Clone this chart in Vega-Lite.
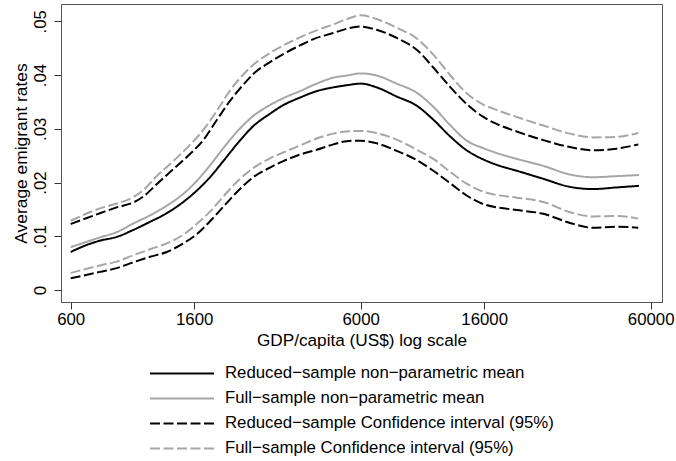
{
  "$schema": "https://vega.github.io/schema/vega-lite/v6.json",
  "width": 601,
  "height": 298,
  "autosize": "none",
  "padding": {"left": 61, "top": 4, "right": 14, "bottom": 159},
  "background": "white",
  "config": {"font": "Liberation Sans", "view": {"stroke": "#555555", "strokeWidth": 1}},
  "datasets": {
    "curves": [
      {"gdp": 600, "rate": 0.0071, "series": "Reduced−sample non−parametric mean"},
      {"gdp": 681, "rate": 0.0084, "series": "Reduced−sample non−parametric mean"},
      {"gdp": 757, "rate": 0.0092, "series": "Reduced−sample non−parametric mean"},
      {"gdp": 865, "rate": 0.0099, "series": "Reduced−sample non−parametric mean"},
      {"gdp": 987, "rate": 0.0112, "series": "Reduced−sample non−parametric mean"},
      {"gdp": 1126, "rate": 0.0127, "series": "Reduced−sample non−parametric mean"},
      {"gdp": 1286, "rate": 0.0143, "series": "Reduced−sample non−parametric mean"},
      {"gdp": 1467, "rate": 0.0164, "series": "Reduced−sample non−parametric mean"},
      {"gdp": 1632, "rate": 0.0185, "series": "Reduced−sample non−parametric mean"},
      {"gdp": 1814, "rate": 0.021, "series": "Reduced−sample non−parametric mean"},
      {"gdp": 2016, "rate": 0.024, "series": "Reduced−sample non−parametric mean"},
      {"gdp": 2242, "rate": 0.0271, "series": "Reduced−sample non−parametric mean"},
      {"gdp": 2558, "rate": 0.0305, "series": "Reduced−sample non−parametric mean"},
      {"gdp": 2920, "rate": 0.0328, "series": "Reduced−sample non−parametric mean"},
      {"gdp": 3246, "rate": 0.0344, "series": "Reduced−sample non−parametric mean"},
      {"gdp": 3706, "rate": 0.0358, "series": "Reduced−sample non−parametric mean"},
      {"gdp": 4231, "rate": 0.037, "series": "Reduced−sample non−parametric mean"},
      {"gdp": 4828, "rate": 0.0377, "series": "Reduced−sample non−parametric mean"},
      {"gdp": 5370, "rate": 0.0381, "series": "Reduced−sample non−parametric mean"},
      {"gdp": 6000, "rate": 0.0384, "series": "Reduced−sample non−parametric mean"},
      {"gdp": 6813, "rate": 0.0377, "series": "Reduced−sample non−parametric mean"},
      {"gdp": 7985, "rate": 0.036, "series": "Reduced−sample non−parametric mean"},
      {"gdp": 9360, "rate": 0.0343, "series": "Reduced−sample non−parametric mean"},
      {"gdp": 10680, "rate": 0.0317, "series": "Reduced−sample non−parametric mean"},
      {"gdp": 12200, "rate": 0.0286, "series": "Reduced−sample non−parametric mean"},
      {"gdp": 13920, "rate": 0.026, "series": "Reduced−sample non−parametric mean"},
      {"gdp": 15890, "rate": 0.0243, "series": "Reduced−sample non−parametric mean"},
      {"gdp": 17670, "rate": 0.0233, "series": "Reduced−sample non−parametric mean"},
      {"gdp": 20710, "rate": 0.0222, "series": "Reduced−sample non−parametric mean"},
      {"gdp": 25580, "rate": 0.0207, "series": "Reduced−sample non−parametric mean"},
      {"gdp": 31620, "rate": 0.0192, "series": "Reduced−sample non−parametric mean"},
      {"gdp": 38050, "rate": 0.0188, "series": "Reduced−sample non−parametric mean"},
      {"gdp": 45810, "rate": 0.0191, "series": "Reduced−sample non−parametric mean"},
      {"gdp": 54700, "rate": 0.0194, "series": "Reduced−sample non−parametric mean"},

      {"gdp": 600, "rate": 0.008, "series": "Full−sample non−parametric mean"},
      {"gdp": 757, "rate": 0.0098, "series": "Full−sample non−parametric mean"},
      {"gdp": 865, "rate": 0.0108, "series": "Full−sample non−parametric mean"},
      {"gdp": 987, "rate": 0.0124, "series": "Full−sample non−parametric mean"},
      {"gdp": 1126, "rate": 0.0139, "series": "Full−sample non−parametric mean"},
      {"gdp": 1286, "rate": 0.0157, "series": "Full−sample non−parametric mean"},
      {"gdp": 1467, "rate": 0.0179, "series": "Full−sample non−parametric mean"},
      {"gdp": 1632, "rate": 0.0203, "series": "Full−sample non−parametric mean"},
      {"gdp": 1814, "rate": 0.0232, "series": "Full−sample non−parametric mean"},
      {"gdp": 2016, "rate": 0.0264, "series": "Full−sample non−parametric mean"},
      {"gdp": 2242, "rate": 0.0294, "series": "Full−sample non−parametric mean"},
      {"gdp": 2558, "rate": 0.0324, "series": "Full−sample non−parametric mean"},
      {"gdp": 2920, "rate": 0.0344, "series": "Full−sample non−parametric mean"},
      {"gdp": 3246, "rate": 0.0357, "series": "Full−sample non−parametric mean"},
      {"gdp": 3706, "rate": 0.037, "series": "Full−sample non−parametric mean"},
      {"gdp": 4231, "rate": 0.0384, "series": "Full−sample non−parametric mean"},
      {"gdp": 4828, "rate": 0.0395, "series": "Full−sample non−parametric mean"},
      {"gdp": 5370, "rate": 0.0399, "series": "Full−sample non−parametric mean"},
      {"gdp": 6000, "rate": 0.0403, "series": "Full−sample non−parametric mean"},
      {"gdp": 6813, "rate": 0.0399, "series": "Full−sample non−parametric mean"},
      {"gdp": 7985, "rate": 0.0384, "series": "Full−sample non−parametric mean"},
      {"gdp": 9360, "rate": 0.0367, "series": "Full−sample non−parametric mean"},
      {"gdp": 10680, "rate": 0.0341, "series": "Full−sample non−parametric mean"},
      {"gdp": 12200, "rate": 0.0307, "series": "Full−sample non−parametric mean"},
      {"gdp": 13920, "rate": 0.0278, "series": "Full−sample non−parametric mean"},
      {"gdp": 15890, "rate": 0.0264, "series": "Full−sample non−parametric mean"},
      {"gdp": 17670, "rate": 0.0255, "series": "Full−sample non−parametric mean"},
      {"gdp": 20710, "rate": 0.0244, "series": "Full−sample non−parametric mean"},
      {"gdp": 25580, "rate": 0.0231, "series": "Full−sample non−parametric mean"},
      {"gdp": 31620, "rate": 0.0215, "series": "Full−sample non−parametric mean"},
      {"gdp": 38050, "rate": 0.021, "series": "Full−sample non−parametric mean"},
      {"gdp": 45810, "rate": 0.0212, "series": "Full−sample non−parametric mean"},
      {"gdp": 54700, "rate": 0.0214, "series": "Full−sample non−parametric mean"},

      {"gdp": 600, "rate": 0.0123, "series": "Reduced−sample Confidence interval (95%)", "band": "upper"},
      {"gdp": 757, "rate": 0.0143, "series": "Reduced−sample Confidence interval (95%)", "band": "upper"},
      {"gdp": 865, "rate": 0.0154, "series": "Reduced−sample Confidence interval (95%)", "band": "upper"},
      {"gdp": 987, "rate": 0.0163, "series": "Reduced−sample Confidence interval (95%)", "band": "upper"},
      {"gdp": 1068, "rate": 0.0174, "series": "Reduced−sample Confidence interval (95%)", "band": "upper"},
      {"gdp": 1188, "rate": 0.0197, "series": "Reduced−sample Confidence interval (95%)", "band": "upper"},
      {"gdp": 1355, "rate": 0.0225, "series": "Reduced−sample Confidence interval (95%)", "band": "upper"},
      {"gdp": 1547, "rate": 0.0253, "series": "Reduced−sample Confidence interval (95%)", "band": "upper"},
      {"gdp": 1720, "rate": 0.0279, "series": "Reduced−sample Confidence interval (95%)", "band": "upper"},
      {"gdp": 1912, "rate": 0.0316, "series": "Reduced−sample Confidence interval (95%)", "band": "upper"},
      {"gdp": 2126, "rate": 0.0352, "series": "Reduced−sample Confidence interval (95%)", "band": "upper"},
      {"gdp": 2363, "rate": 0.0382, "series": "Reduced−sample Confidence interval (95%)", "band": "upper"},
      {"gdp": 2558, "rate": 0.0402, "series": "Reduced−sample Confidence interval (95%)", "band": "upper"},
      {"gdp": 2920, "rate": 0.0424, "series": "Reduced−sample Confidence interval (95%)", "band": "upper"},
      {"gdp": 3246, "rate": 0.0439, "series": "Reduced−sample Confidence interval (95%)", "band": "upper"},
      {"gdp": 3706, "rate": 0.0455, "series": "Reduced−sample Confidence interval (95%)", "band": "upper"},
      {"gdp": 4231, "rate": 0.0469, "series": "Reduced−sample Confidence interval (95%)", "band": "upper"},
      {"gdp": 4828, "rate": 0.0478, "series": "Reduced−sample Confidence interval (95%)", "band": "upper"},
      {"gdp": 5370, "rate": 0.0486, "series": "Reduced−sample Confidence interval (95%)", "band": "upper"},
      {"gdp": 6000, "rate": 0.049, "series": "Reduced−sample Confidence interval (95%)", "band": "upper"},
      {"gdp": 6813, "rate": 0.0484, "series": "Reduced−sample Confidence interval (95%)", "band": "upper"},
      {"gdp": 7985, "rate": 0.0469, "series": "Reduced−sample Confidence interval (95%)", "band": "upper"},
      {"gdp": 9360, "rate": 0.0447, "series": "Reduced−sample Confidence interval (95%)", "band": "upper"},
      {"gdp": 10680, "rate": 0.0414, "series": "Reduced−sample Confidence interval (95%)", "band": "upper"},
      {"gdp": 12200, "rate": 0.0378, "series": "Reduced−sample Confidence interval (95%)", "band": "upper"},
      {"gdp": 13920, "rate": 0.0346, "series": "Reduced−sample Confidence interval (95%)", "band": "upper"},
      {"gdp": 15890, "rate": 0.0322, "series": "Reduced−sample Confidence interval (95%)", "band": "upper"},
      {"gdp": 17670, "rate": 0.0309, "series": "Reduced−sample Confidence interval (95%)", "band": "upper"},
      {"gdp": 20710, "rate": 0.0295, "series": "Reduced−sample Confidence interval (95%)", "band": "upper"},
      {"gdp": 25580, "rate": 0.0279, "series": "Reduced−sample Confidence interval (95%)", "band": "upper"},
      {"gdp": 31620, "rate": 0.0266, "series": "Reduced−sample Confidence interval (95%)", "band": "upper"},
      {"gdp": 38050, "rate": 0.026, "series": "Reduced−sample Confidence interval (95%)", "band": "upper"},
      {"gdp": 45810, "rate": 0.0263, "series": "Reduced−sample Confidence interval (95%)", "band": "upper"},
      {"gdp": 54370, "rate": 0.0271, "series": "Reduced−sample Confidence interval (95%)", "band": "upper"},

      {"gdp": 600, "rate": 0.0022, "series": "Reduced−sample Confidence interval (95%)", "band": "lower"},
      {"gdp": 757, "rate": 0.0034, "series": "Reduced−sample Confidence interval (95%)", "band": "lower"},
      {"gdp": 865, "rate": 0.0041, "series": "Reduced−sample Confidence interval (95%)", "band": "lower"},
      {"gdp": 987, "rate": 0.0052, "series": "Reduced−sample Confidence interval (95%)", "band": "lower"},
      {"gdp": 1126, "rate": 0.0062, "series": "Reduced−sample Confidence interval (95%)", "band": "lower"},
      {"gdp": 1286, "rate": 0.0071, "series": "Reduced−sample Confidence interval (95%)", "band": "lower"},
      {"gdp": 1467, "rate": 0.0087, "series": "Reduced−sample Confidence interval (95%)", "band": "lower"},
      {"gdp": 1632, "rate": 0.0104, "series": "Reduced−sample Confidence interval (95%)", "band": "lower"},
      {"gdp": 1814, "rate": 0.0128, "series": "Reduced−sample Confidence interval (95%)", "band": "lower"},
      {"gdp": 2016, "rate": 0.0155, "series": "Reduced−sample Confidence interval (95%)", "band": "lower"},
      {"gdp": 2242, "rate": 0.0182, "series": "Reduced−sample Confidence interval (95%)", "band": "lower"},
      {"gdp": 2558, "rate": 0.021, "series": "Reduced−sample Confidence interval (95%)", "band": "lower"},
      {"gdp": 2920, "rate": 0.0228, "series": "Reduced−sample Confidence interval (95%)", "band": "lower"},
      {"gdp": 3246, "rate": 0.024, "series": "Reduced−sample Confidence interval (95%)", "band": "lower"},
      {"gdp": 3706, "rate": 0.0252, "series": "Reduced−sample Confidence interval (95%)", "band": "lower"},
      {"gdp": 4231, "rate": 0.0261, "series": "Reduced−sample Confidence interval (95%)", "band": "lower"},
      {"gdp": 4828, "rate": 0.0271, "series": "Reduced−sample Confidence interval (95%)", "band": "lower"},
      {"gdp": 5370, "rate": 0.0277, "series": "Reduced−sample Confidence interval (95%)", "band": "lower"},
      {"gdp": 6000, "rate": 0.0278, "series": "Reduced−sample Confidence interval (95%)", "band": "lower"},
      {"gdp": 6813, "rate": 0.0273, "series": "Reduced−sample Confidence interval (95%)", "band": "lower"},
      {"gdp": 7985, "rate": 0.0259, "series": "Reduced−sample Confidence interval (95%)", "band": "lower"},
      {"gdp": 9360, "rate": 0.0242, "series": "Reduced−sample Confidence interval (95%)", "band": "lower"},
      {"gdp": 10680, "rate": 0.0222, "series": "Reduced−sample Confidence interval (95%)", "band": "lower"},
      {"gdp": 12200, "rate": 0.0199, "series": "Reduced−sample Confidence interval (95%)", "band": "lower"},
      {"gdp": 13920, "rate": 0.0176, "series": "Reduced−sample Confidence interval (95%)", "band": "lower"},
      {"gdp": 15890, "rate": 0.016, "series": "Reduced−sample Confidence interval (95%)", "band": "lower"},
      {"gdp": 17670, "rate": 0.0154, "series": "Reduced−sample Confidence interval (95%)", "band": "lower"},
      {"gdp": 20710, "rate": 0.0149, "series": "Reduced−sample Confidence interval (95%)", "band": "lower"},
      {"gdp": 25580, "rate": 0.0142, "series": "Reduced−sample Confidence interval (95%)", "band": "lower"},
      {"gdp": 31620, "rate": 0.0125, "series": "Reduced−sample Confidence interval (95%)", "band": "lower"},
      {"gdp": 38050, "rate": 0.0116, "series": "Reduced−sample Confidence interval (95%)", "band": "lower"},
      {"gdp": 45810, "rate": 0.0118, "series": "Reduced−sample Confidence interval (95%)", "band": "lower"},
      {"gdp": 54370, "rate": 0.0116, "series": "Reduced−sample Confidence interval (95%)", "band": "lower"},

      {"gdp": 600, "rate": 0.0129, "series": "Full−sample Confidence interval (95%)", "band": "upper"},
      {"gdp": 757, "rate": 0.0152, "series": "Full−sample Confidence interval (95%)", "band": "upper"},
      {"gdp": 865, "rate": 0.0161, "series": "Full−sample Confidence interval (95%)", "band": "upper"},
      {"gdp": 987, "rate": 0.0173, "series": "Full−sample Confidence interval (95%)", "band": "upper"},
      {"gdp": 1068, "rate": 0.0186, "series": "Full−sample Confidence interval (95%)", "band": "upper"},
      {"gdp": 1188, "rate": 0.0212, "series": "Full−sample Confidence interval (95%)", "band": "upper"},
      {"gdp": 1355, "rate": 0.024, "series": "Full−sample Confidence interval (95%)", "band": "upper"},
      {"gdp": 1547, "rate": 0.027, "series": "Full−sample Confidence interval (95%)", "band": "upper"},
      {"gdp": 1720, "rate": 0.0298, "series": "Full−sample Confidence interval (95%)", "band": "upper"},
      {"gdp": 1912, "rate": 0.0333, "series": "Full−sample Confidence interval (95%)", "band": "upper"},
      {"gdp": 2126, "rate": 0.0371, "series": "Full−sample Confidence interval (95%)", "band": "upper"},
      {"gdp": 2363, "rate": 0.0401, "series": "Full−sample Confidence interval (95%)", "band": "upper"},
      {"gdp": 2558, "rate": 0.0419, "series": "Full−sample Confidence interval (95%)", "band": "upper"},
      {"gdp": 2920, "rate": 0.0441, "series": "Full−sample Confidence interval (95%)", "band": "upper"},
      {"gdp": 3246, "rate": 0.0455, "series": "Full−sample Confidence interval (95%)", "band": "upper"},
      {"gdp": 3706, "rate": 0.047, "series": "Full−sample Confidence interval (95%)", "band": "upper"},
      {"gdp": 4231, "rate": 0.0483, "series": "Full−sample Confidence interval (95%)", "band": "upper"},
      {"gdp": 4828, "rate": 0.0494, "series": "Full−sample Confidence interval (95%)", "band": "upper"},
      {"gdp": 5370, "rate": 0.0504, "series": "Full−sample Confidence interval (95%)", "band": "upper"},
      {"gdp": 6000, "rate": 0.0511, "series": "Full−sample Confidence interval (95%)", "band": "upper"},
      {"gdp": 6813, "rate": 0.0504, "series": "Full−sample Confidence interval (95%)", "band": "upper"},
      {"gdp": 7985, "rate": 0.0488, "series": "Full−sample Confidence interval (95%)", "band": "upper"},
      {"gdp": 9360, "rate": 0.0468, "series": "Full−sample Confidence interval (95%)", "band": "upper"},
      {"gdp": 10680, "rate": 0.0438, "series": "Full−sample Confidence interval (95%)", "band": "upper"},
      {"gdp": 12200, "rate": 0.04, "series": "Full−sample Confidence interval (95%)", "band": "upper"},
      {"gdp": 13920, "rate": 0.0366, "series": "Full−sample Confidence interval (95%)", "band": "upper"},
      {"gdp": 15890, "rate": 0.0345, "series": "Full−sample Confidence interval (95%)", "band": "upper"},
      {"gdp": 17670, "rate": 0.0335, "series": "Full−sample Confidence interval (95%)", "band": "upper"},
      {"gdp": 20710, "rate": 0.0322, "series": "Full−sample Confidence interval (95%)", "band": "upper"},
      {"gdp": 25580, "rate": 0.0306, "series": "Full−sample Confidence interval (95%)", "band": "upper"},
      {"gdp": 31620, "rate": 0.0291, "series": "Full−sample Confidence interval (95%)", "band": "upper"},
      {"gdp": 38050, "rate": 0.0284, "series": "Full−sample Confidence interval (95%)", "band": "upper"},
      {"gdp": 45810, "rate": 0.0285, "series": "Full−sample Confidence interval (95%)", "band": "upper"},
      {"gdp": 54370, "rate": 0.0292, "series": "Full−sample Confidence interval (95%)", "band": "upper"},

      {"gdp": 600, "rate": 0.0032, "series": "Full−sample Confidence interval (95%)", "band": "lower"},
      {"gdp": 757, "rate": 0.0046, "series": "Full−sample Confidence interval (95%)", "band": "lower"},
      {"gdp": 865, "rate": 0.0053, "series": "Full−sample Confidence interval (95%)", "band": "lower"},
      {"gdp": 987, "rate": 0.0065, "series": "Full−sample Confidence interval (95%)", "band": "lower"},
      {"gdp": 1126, "rate": 0.0076, "series": "Full−sample Confidence interval (95%)", "band": "lower"},
      {"gdp": 1286, "rate": 0.0087, "series": "Full−sample Confidence interval (95%)", "band": "lower"},
      {"gdp": 1467, "rate": 0.0103, "series": "Full−sample Confidence interval (95%)", "band": "lower"},
      {"gdp": 1632, "rate": 0.0123, "series": "Full−sample Confidence interval (95%)", "band": "lower"},
      {"gdp": 1814, "rate": 0.0146, "series": "Full−sample Confidence interval (95%)", "band": "lower"},
      {"gdp": 2016, "rate": 0.0174, "series": "Full−sample Confidence interval (95%)", "band": "lower"},
      {"gdp": 2242, "rate": 0.0201, "series": "Full−sample Confidence interval (95%)", "band": "lower"},
      {"gdp": 2558, "rate": 0.0227, "series": "Full−sample Confidence interval (95%)", "band": "lower"},
      {"gdp": 2920, "rate": 0.0245, "series": "Full−sample Confidence interval (95%)", "band": "lower"},
      {"gdp": 3246, "rate": 0.0256, "series": "Full−sample Confidence interval (95%)", "band": "lower"},
      {"gdp": 3706, "rate": 0.0269, "series": "Full−sample Confidence interval (95%)", "band": "lower"},
      {"gdp": 4231, "rate": 0.0282, "series": "Full−sample Confidence interval (95%)", "band": "lower"},
      {"gdp": 4828, "rate": 0.0291, "series": "Full−sample Confidence interval (95%)", "band": "lower"},
      {"gdp": 5370, "rate": 0.0295, "series": "Full−sample Confidence interval (95%)", "band": "lower"},
      {"gdp": 6000, "rate": 0.0296, "series": "Full−sample Confidence interval (95%)", "band": "lower"},
      {"gdp": 6813, "rate": 0.0292, "series": "Full−sample Confidence interval (95%)", "band": "lower"},
      {"gdp": 7985, "rate": 0.028, "series": "Full−sample Confidence interval (95%)", "band": "lower"},
      {"gdp": 9360, "rate": 0.0261, "series": "Full−sample Confidence interval (95%)", "band": "lower"},
      {"gdp": 10680, "rate": 0.0244, "series": "Full−sample Confidence interval (95%)", "band": "lower"},
      {"gdp": 12200, "rate": 0.022, "series": "Full−sample Confidence interval (95%)", "band": "lower"},
      {"gdp": 13920, "rate": 0.0198, "series": "Full−sample Confidence interval (95%)", "band": "lower"},
      {"gdp": 15890, "rate": 0.0183, "series": "Full−sample Confidence interval (95%)", "band": "lower"},
      {"gdp": 17670, "rate": 0.0177, "series": "Full−sample Confidence interval (95%)", "band": "lower"},
      {"gdp": 20710, "rate": 0.0172, "series": "Full−sample Confidence interval (95%)", "band": "lower"},
      {"gdp": 25580, "rate": 0.0164, "series": "Full−sample Confidence interval (95%)", "band": "lower"},
      {"gdp": 31620, "rate": 0.0145, "series": "Full−sample Confidence interval (95%)", "band": "lower"},
      {"gdp": 38050, "rate": 0.0137, "series": "Full−sample Confidence interval (95%)", "band": "lower"},
      {"gdp": 45810, "rate": 0.0138, "series": "Full−sample Confidence interval (95%)", "band": "lower"},
      {"gdp": 54370, "rate": 0.0133, "series": "Full−sample Confidence interval (95%)", "band": "lower"}
    ]
  },
  "data": {"name": "curves"},
  "mark": {"type": "line", "strokeWidth": 2, "interpolate": "monotone"},
  "encoding": {
    "x": {
      "field": "gdp",
      "type": "quantitative",
      "scale": {"type": "log", "domain": [555.6, 65650], "nice": false},
      "axis": {
        "values": [600, 1600, 6000, 16000, 60000],
        "format": "d",
        "title": "GDP/capita (US$) log scale",
        "grid": false,
        "tickSize": 7,
        "tickColor": "#333333",
        "domainColor": "#555555",
        "labelFontSize": 16.8,
        "labelColor": "black",
        "labelBaseline": "alphabetic",
        "labelPadding": 15.5,
        "labelFlush": false,
        "labelOverlap": false,
        "titleFontSize": 17.2,
        "titleFontWeight": "normal",
        "titleColor": "black",
        "titleBaseline": "alphabetic",
        "titleY": 43
      }
    },
    "y": {
      "field": "rate",
      "type": "quantitative",
      "scale": {"domain": [-0.0022, 0.0532], "nice": false, "zero": false},
      "axis": {
        "values": [0, 0.01, 0.02, 0.03, 0.04, 0.05],
        "labelExpr": "datum.value == 0 ? '0' : replace(format(datum.value, '.2f'), '0.', '.')",
        "title": "Average emigrant rates",
        "grid": false,
        "tickSize": 7,
        "tickColor": "#333333",
        "domainColor": "#555555",
        "labelAngle": -90,
        "labelAlign": "center",
        "labelBaseline": "alphabetic",
        "labelPadding": 9,
        "labelFontSize": 16.8,
        "labelColor": "black",
        "labelOverlap": false,
        "titleFontSize": 17.4,
        "titleFontWeight": "normal",
        "titleColor": "black",
        "titleAngle": -90,
        "titleAlign": "center",
        "titleBaseline": "alphabetic",
        "titleX": -35,
        "titleY": 149
      }
    },
    "detail": {"field": "band", "type": "nominal"},
    "color": {
      "field": "series",
      "type": "nominal",
      "scale": {
        "domain": ["Reduced−sample non−parametric mean", "Full−sample non−parametric mean", "Reduced−sample Confidence interval (95%)", "Full−sample Confidence interval (95%)"],
        "range": ["#000000", "#a6a6a6", "#000000", "#a6a6a6"]
      },
      "legend": {
        "title": null, "orient": "none", "legendX": 88, "legendY": 358, "direction": "vertical",
        "symbolType": "stroke", "symbolSize": 4096, "symbolStrokeWidth": 2, "clipHeight": 22.8,
        "labelFontSize": 16.8, "labelColor": "black", "labelOffset": 10, "labelLimit": 600, "padding": 0, "rowPadding": 2
      }
    },
    "strokeDash": {
      "field": "series",
      "type": "nominal",
      "scale": {
        "domain": ["Reduced−sample non−parametric mean", "Full−sample non−parametric mean", "Reduced−sample Confidence interval (95%)", "Full−sample Confidence interval (95%)"],
        "range": [[1, 0], [1, 0], [10, 3.5], [10, 3.5]]
      },
      "legend": {
        "title": null, "orient": "none", "legendX": 88, "legendY": 358, "direction": "vertical",
        "symbolType": "stroke", "symbolSize": 4096, "symbolStrokeWidth": 2, "clipHeight": 22.8,
        "labelFontSize": 16.8, "labelColor": "black", "labelOffset": 10, "labelLimit": 600, "padding": 0, "rowPadding": 2
      }
    }
  }
}
